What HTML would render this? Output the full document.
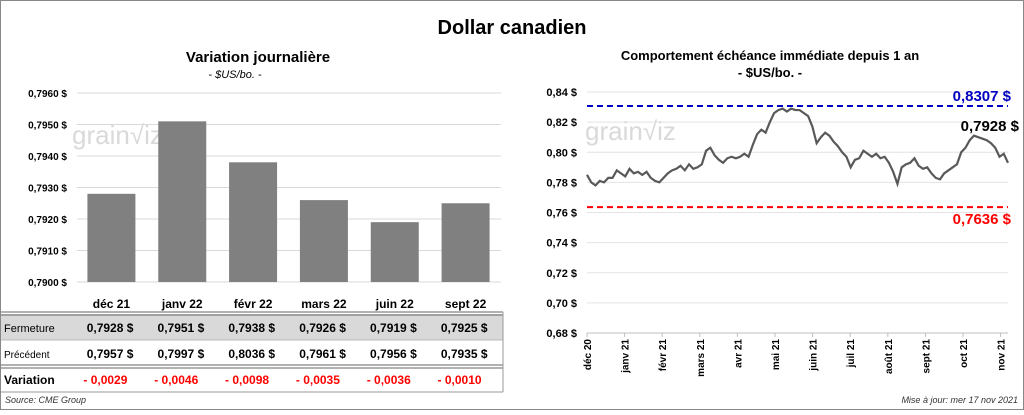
<!DOCTYPE html>
<html><head><meta charset="utf-8"><style>
body{margin:0;width:1024px;height:410px;overflow:hidden;background:#fff;font-family:"Liberation Sans",sans-serif}
svg text{font-family:"Liberation Sans",sans-serif}
</style></head><body>
<svg id="c" width="1024" height="410" xmlns="http://www.w3.org/2000/svg">
<rect x="0.5" y="0.5" width="1023" height="409" fill="#fff" stroke="#888"/>
<text x="512" y="34" text-anchor="middle" font-size="20" font-weight="bold">Dollar canadien</text>
<text x="258" y="62" text-anchor="middle" font-size="15" font-weight="bold">Variation  journalière</text>
<text x="235" y="78" text-anchor="middle" font-size="11" font-style="italic">- $US/bo. -</text>
<text x="770" y="60" text-anchor="middle" font-size="13" font-weight="bold">Comportement échéance immédiate depuis 1 an</text>
<text x="770" y="77" text-anchor="middle" font-size="13" font-weight="bold">- $US/bo. -</text>
<text x="72" y="144" font-size="26" fill="#d9d9d9">grain√iz</text>
<text x="585" y="140" font-size="26" fill="#d9d9d9">grain√iz</text>
<g id="left"></g><g id="right"></g><g id="table"></g>
<text x="5" y="403" font-size="9" font-style="italic" fill="#333">Source: CME Group</text>
<text x="1018" y="403" text-anchor="end" font-size="9" font-style="italic" fill="#333">Mise à jour: mer 17 nov 2021</text>
</svg>
<script>
const barCats=["déc 21","janv 22","févr 22","mars 22","juin 22","sept 22"];
const closeVals=[0.7928,0.7951,0.7938,0.7926,0.7919,0.7925];
const prevVals=[0.7957,0.7997,0.8036,0.7961,0.7956,0.7935];
const varVals=[-0.0029,-0.0046,-0.0098,-0.0035,-0.0036,-0.0010];
const barTicks=[0.7900,0.7910,0.7920,0.7930,0.7940,0.7950,0.7960];
const lineMonths=["déc 20","janv 21","févr 21","mars 21","avr 21","mai 21","juin 21","juil 21","août 21","sept 21","oct 21","nov 21"];
const lineTicks=[0.68,0.70,0.72,0.74,0.76,0.78,0.80,0.82,0.84];
const lineVals=[0.785,0.780,0.778,0.781,0.780,0.783,0.783,0.788,0.786,0.784,0.789,0.786,0.787,0.785,0.787,0.783,0.781,0.780,0.783,0.786,0.788,0.789,0.791,0.788,0.792,0.789,0.790,0.792,0.801,0.803,0.798,0.795,0.793,0.796,0.797,0.796,0.797,0.799,0.797,0.805,0.812,0.815,0.813,0.820,0.826,0.828,0.829,0.827,0.829,0.828,0.828,0.826,0.824,0.817,0.806,0.810,0.813,0.811,0.807,0.804,0.800,0.797,0.790,0.795,0.796,0.801,0.799,0.797,0.799,0.796,0.797,0.793,0.787,0.779,0.790,0.792,0.793,0.796,0.791,0.789,0.790,0.786,0.783,0.782,0.786,0.788,0.790,0.792,0.800,0.803,0.808,0.811,0.810,0.809,0.808,0.806,0.803,0.797,0.799,0.793];
const highVal=0.8307, lowVal=0.7636, lastVal=0.7928;
const NS="http://www.w3.org/2000/svg";
function mk(p,tag,a,t){const e=document.createElementNS(NS,tag);for(const k in a)e.setAttribute(k,a[k]);if(t!=null)e.textContent=t;p.appendChild(e);return e;}
const fmt=(v,d)=>v.toFixed(d).replace('.',',');
const L=document.getElementById('left');
const ly=v=>282-(v-0.79)/0.006*189;
const bx=i=>76+(i+0.5)*(425/6);
barTicks.forEach(t=>{
 const g=mk(L,'line',{x1:77,x2:501,y1:ly(t),y2:ly(t),stroke:'#d9d9d9'});
 
 const l=mk(L,'text',{x:67,y:ly(t)+4,'text-anchor':'end','font-size':10,'font-weight':'bold'},fmt(t,4)+' $');
 
});
closeVals.forEach((v,i)=>{
 const r=mk(L,'rect',{x:bx(i)-24,y:ly(v),width:48,height:ly(0.79)-ly(v),fill:'#808080'});
 
});
const T=document.getElementById('table');
mk(T,'rect',{x:1,y:314,width:502,height:26,fill:'#d9d9d9'});
[[312,1],[315,1],[365,1],[368,1]].forEach(a=>mk(T,'line',{x1:1,x2:503,y1:a[0],y2:a[0],stroke:'#666','stroke-width':1}));
mk(T,'line',{x1:1,x2:503,y1:340,y2:340,stroke:'#bbb'});
mk(T,'line',{x1:503,x2:503,y1:312,y2:392,stroke:'#999'});
mk(T,'line',{x1:1,x2:503,y1:392,y2:392,stroke:'#999'});
const rl=(t,y,fs,fw)=>{const e=mk(T,'text',{x:4,y:y,'font-size':fs,'font-weight':fw},t);};
rl('Fermeture',332,11,'normal');rl('Précédent',358,10,'normal');rl('Variation',384,12,'bold');
barCats.forEach((c,i)=>{
 const x=bx(i);
 let e=mk(T,'text',{x:x,y:308,'text-anchor':'middle','font-size':12,'font-weight':'bold'},c);
 
 e=mk(T,'text',{x:x+22,y:332,'text-anchor':'end','font-size':12,'font-weight':'bold'},fmt(closeVals[i],4)+'  $');
 
 e=mk(T,'text',{x:x+22,y:358,'text-anchor':'end','font-size':12,'font-weight':'bold'},fmt(prevVals[i],4)+'  $');
 
 const d=varVals[i];
 e=mk(T,'text',{x:x+16,y:384,'text-anchor':'end','font-size':12,'font-weight':'bold',fill:'#ff0000'},(d<0?'- ':'')+fmt(Math.abs(d),4));
 
});
const R=document.getElementById('right');
const ry=v=>333-(v-0.68)/0.16*241;
const x0=587,x1=1008;
lineTicks.forEach(t=>{
 const g=mk(R,'line',{x1:x0,x2:x1,y1:ry(t),y2:ry(t),stroke:t==0.68?'#bfbfbf':'#e3e3e3'});
 
 const l=mk(R,'text',{x:577,y:ry(t)+4,'text-anchor':'end','font-size':11,'font-weight':'bold'},fmt(t,2)+' $');
 
});
lineMonths.forEach((m,i)=>{
 const x=x0+i*37.6;
 mk(R,'line',{x1:x,x2:x,y1:333,y2:337,stroke:'#bfbfbf'});
 const l=mk(R,'text',{x:0,y:0,'text-anchor':'end','font-size':10,'font-weight':'bold',transform:`translate(${x+4},339) rotate(-90)`},m);
 
});
let h=mk(R,'line',{x1:x0,x2:x1,y1:ry(highVal),y2:ry(highVal),stroke:'#0000c0','stroke-width':2,'stroke-dasharray':'6,4'});

h=mk(R,'line',{x1:x0,x2:x1,y1:ry(lowVal),y2:ry(lowVal),stroke:'#ff0000','stroke-width':2,'stroke-dasharray':'6,4'});

const lx=i=>x0+i*(x1-x0)/(lineVals.length-1);
const pl=mk(R,'polyline',{points:lineVals.map((v,i)=>lx(i)+','+ry(v)).join(' '),fill:'none',stroke:'#595959','stroke-width':2.2});

let t=mk(R,'text',{x:1011,y:ry(highVal)-5,'text-anchor':'end','font-size':15,'font-weight':'bold',fill:'#0000c0'},fmt(highVal,4)+' $');

t=mk(R,'text',{x:1011,y:ry(lowVal)+17,'text-anchor':'end','font-size':15,'font-weight':'bold',fill:'#ff0000'},fmt(lowVal,4)+' $');

t=mk(R,'text',{x:1019,y:131,'text-anchor':'end','font-size':15,'font-weight':'bold'},fmt(lastVal,4)+' $');

</script>
</body></html>
